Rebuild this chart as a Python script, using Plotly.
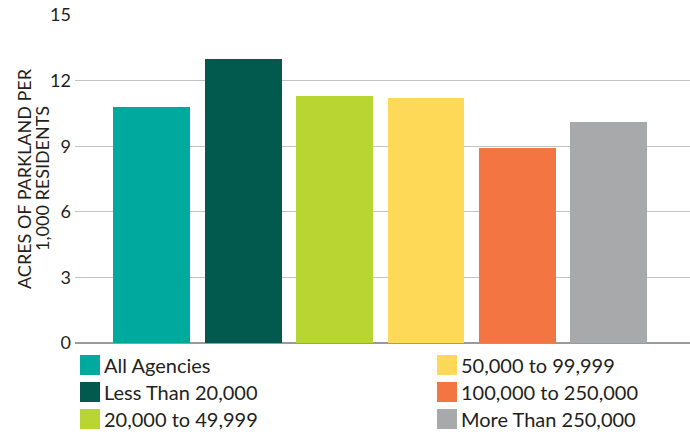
import plotly.graph_objects as go

categories = ["All Agencies", "Less Than 20,000", "20,000 to 49,999",
              "50,000 to 99,999", "100,000 to 250,000", "More Than 250,000"]
values = [10.8, 13.0, 11.3, 11.2, 8.9, 10.1]
colors = ["#00A99D", "#025A4E", "#B9D532", "#FED857", "#F37542", "#A8A9AB"]
y_ticks = [0, 3, 6, 9, 12, 15]
y_title_lines = ["ACRES OF PARKLAND PER", "1,000 RESIDENTS"]

W, H = 690, 434
ML, MR, MT, MB = 75, 0, 15, 91
FONT = "Lato"
TXT = "#231F20"

fig = go.Figure()
fig.add_trace(go.Bar(
    x=list(range(len(categories))), y=values,
    marker=dict(color=colors, line=dict(width=0)),
    width=0.84, showlegend=False, hoverinfo="y+text",
    hovertext=categories,
))

ph = H - MT - MB
pw = W - ML - MR
def px_to_paper_x(px):
    return (px - ML) / pw
def px_to_paper_y(py):
    return (H - MB - py) / ph

shapes = []
annotations = []
row_y = [365, 392, 419]
col_x = [80, 437]
for i, (cat, col) in enumerate(zip(categories, colors)):
    c = i // 3
    r = i % 3
    x0 = col_x[c]
    yc = row_y[r]
    shapes.append(dict(type="rect", xref="paper", yref="paper",
                       x0=px_to_paper_x(x0), x1=px_to_paper_x(x0 + 20),
                       y0=px_to_paper_y(yc + 10), y1=px_to_paper_y(yc - 10),
                       fillcolor=col, line=dict(width=0), layer="above"))
    annotations.append(dict(text=cat, xref="paper", yref="paper",
                            x=px_to_paper_x(x0 + 22), y=px_to_paper_y(yc),
                            xanchor="left", yanchor="middle", showarrow=False,
                            font=dict(family=FONT, size=20, color=TXT)))

# y-axis title, two rotated lines
for line, xc in zip(y_title_lines, [24, 42]):
    annotations.append(dict(text=line, xref="paper", yref="paper",
                            x=px_to_paper_x(xc), y=px_to_paper_y(179),
                            xanchor="center", yanchor="middle", textangle=-90,
                            showarrow=False,
                            font=dict(family=FONT, size=18, color=TXT)))

fig.update_layout(
    width=W, height=H,
    margin=dict(l=ML, r=MR, t=MT, b=MB, pad=0),
    paper_bgcolor="white", plot_bgcolor="white",
    bargap=0,
    xaxis=dict(range=[-0.84, 5.89], showticklabels=False, showgrid=False,
               zeroline=False, showline=False, ticks="", fixedrange=True),
    yaxis=dict(range=[0, 15], tickvals=y_ticks, ticktext=[str(t) for t in y_ticks],
               showgrid=True, gridcolor="#C4C4C4", gridwidth=1,
               zeroline=True, zerolinecolor="#9A9A9A", zerolinewidth=1.5,
               showline=False, ticks="", ticklabelstandoff=3,
               tickfont=dict(family=FONT, size=18, color=TXT)),
    shapes=shapes, annotations=annotations,
    font=dict(family=FONT, color=TXT),
)

fig.write_html("out.html", config={"displayModeBar": False},
               post_script="document.body.style.margin='0';document.body.style.padding='0';")
